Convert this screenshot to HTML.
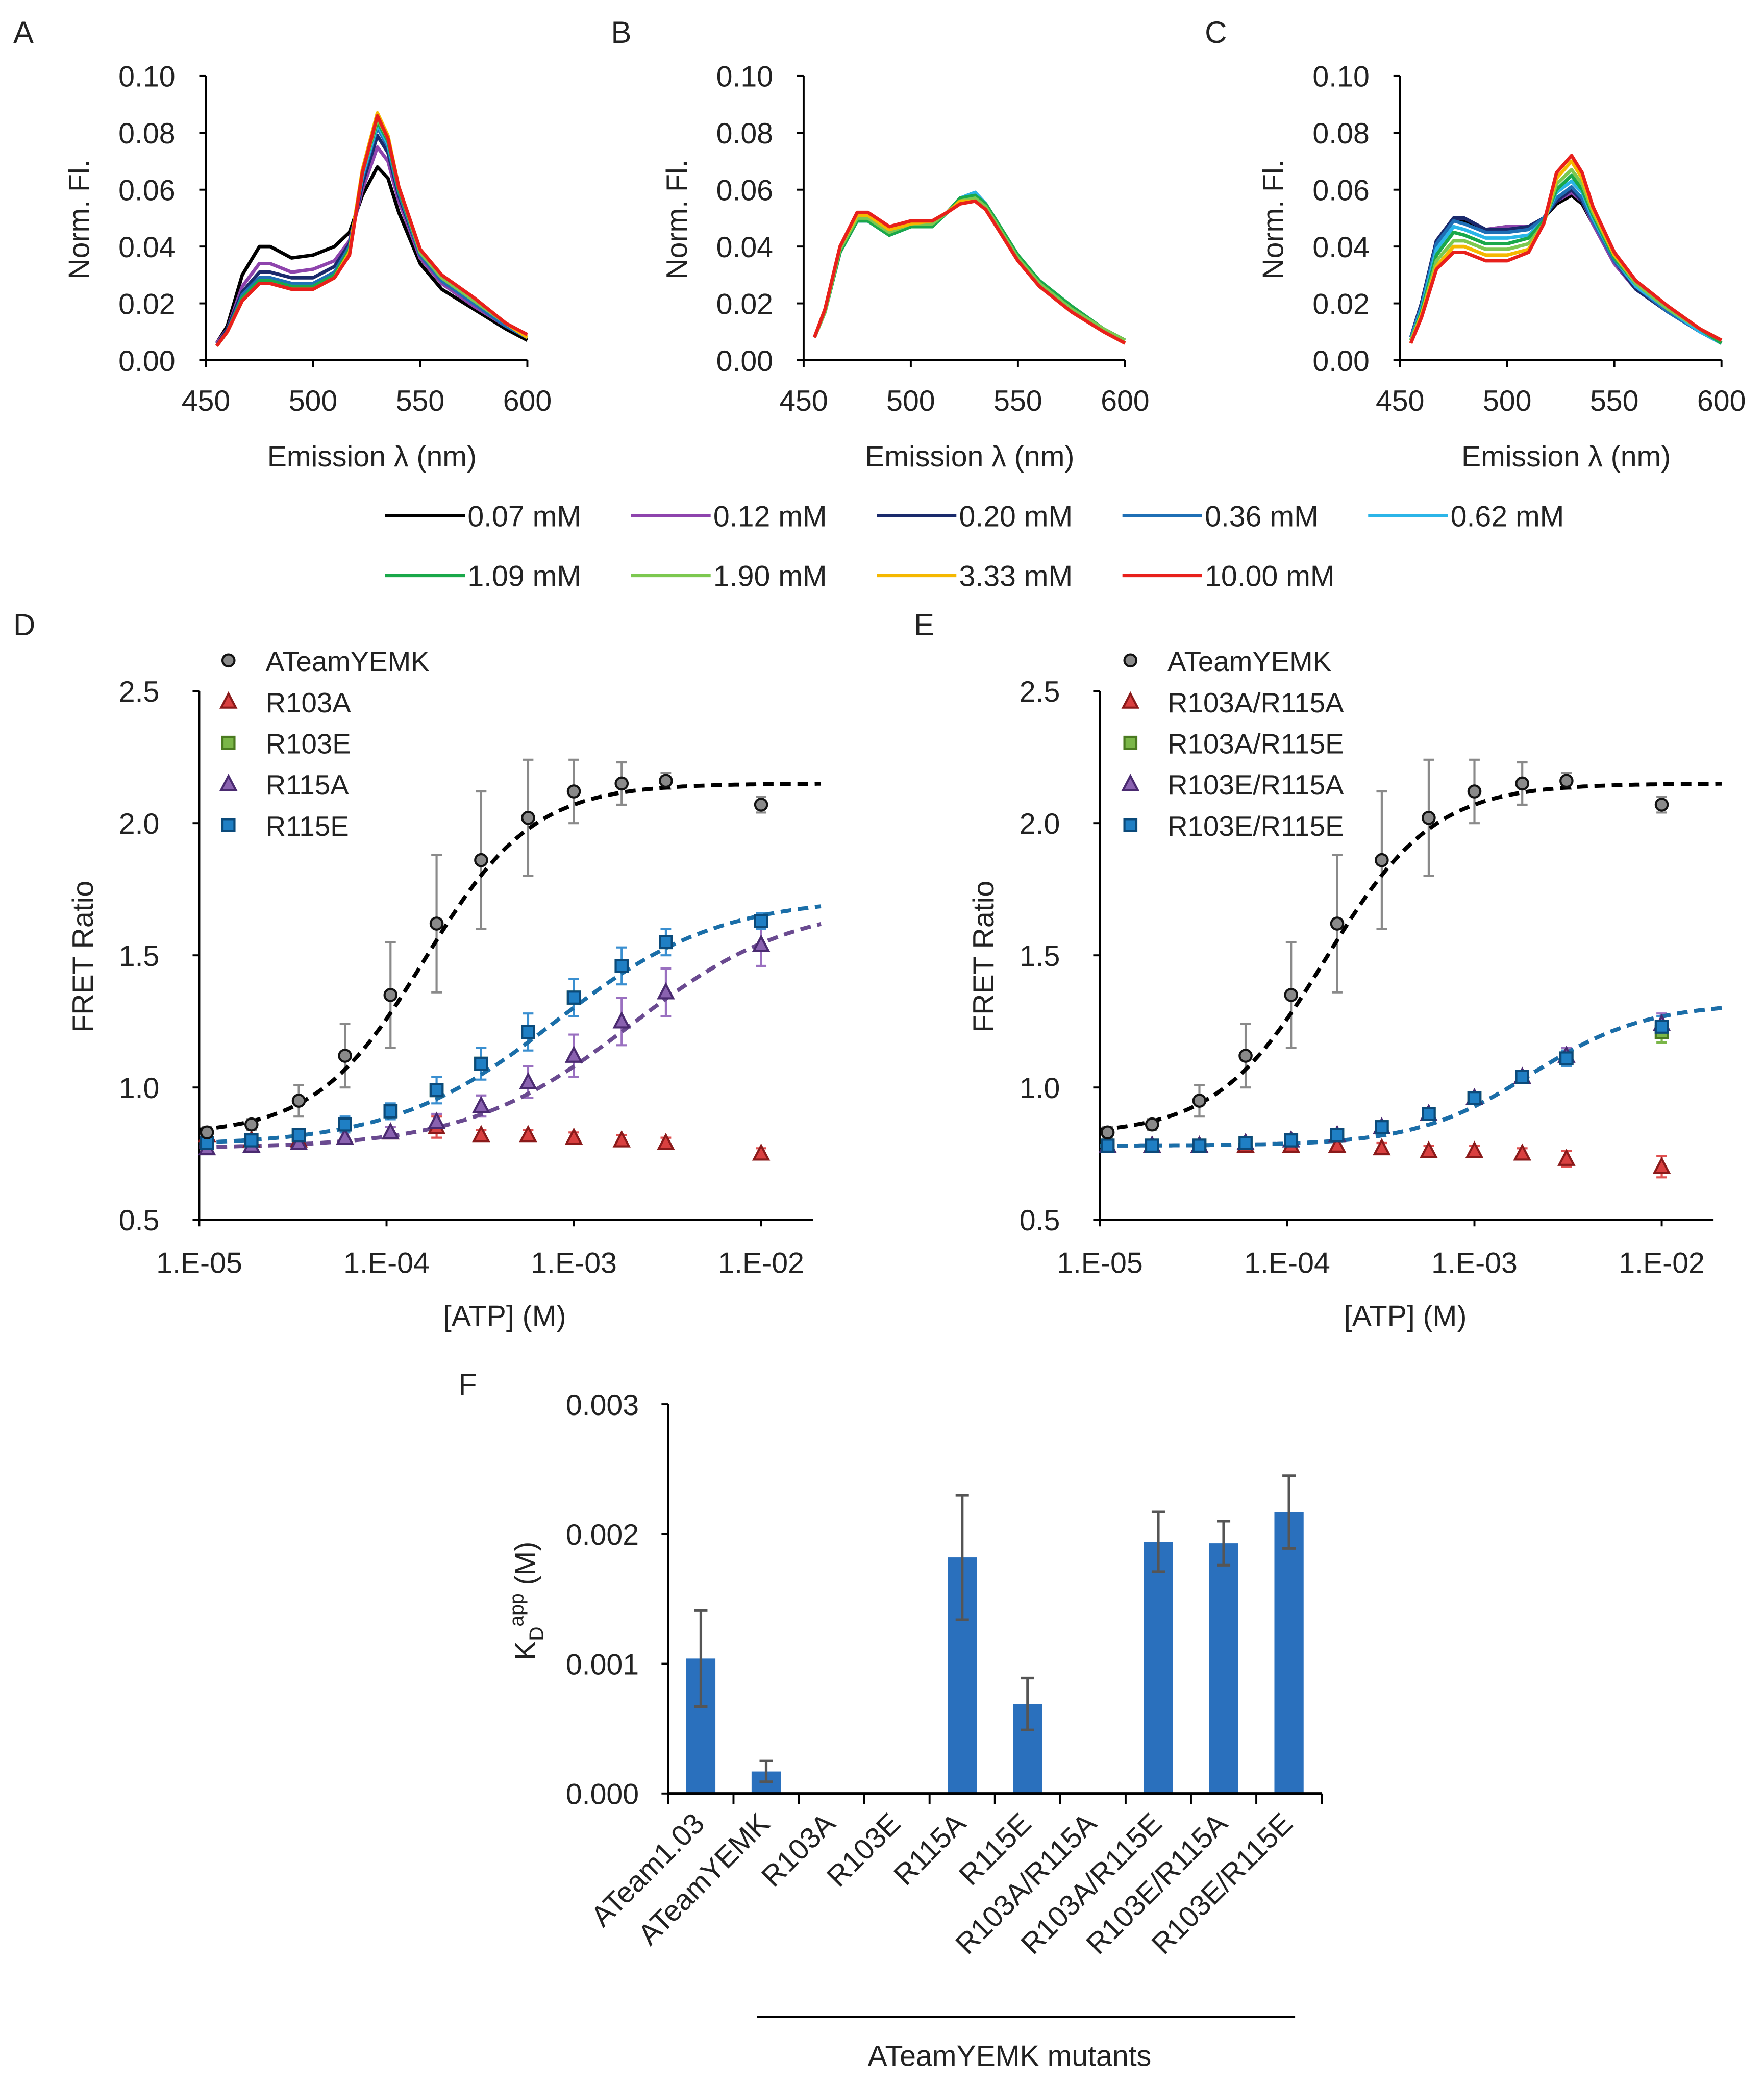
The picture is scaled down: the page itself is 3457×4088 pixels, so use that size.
<!DOCTYPE html>
<html><head><meta charset="utf-8"><style>
html,body{margin:0;padding:0;background:#fff}
svg{display:block}
text{font-family:"Liberation Sans",Arial,sans-serif;fill:#222}
</style></head><body>
<svg id="fig" xmlns="http://www.w3.org/2000/svg" width="3457" height="4088" viewBox="0 0 1328 1570"></svg>
<script>
// ---------- data: spectra ----------
const wl = [455,460,467,475,480,490,500,510,517,523,530,535,540,550,560,575,590,600];
const concLabels = ['0.07 mM','0.12 mM','0.20 mM','0.36 mM','0.62 mM','1.09 mM','1.90 mM','3.33 mM','10.00 mM'];
const concColors = ['#000000','#8e44ad','#1a2a6c','#1f6fb5','#2bb5e8','#1aa84a','#7cc850','#f5b800','#e8201c'];
const specA0=[.006,.012,.030,.040,.040,.036,.037,.040,.045,.058,.068,.064,.052,.034,.025,.018,.011,.007];
const specA1=[.006,.011,.026,.034,.034,.031,.032,.035,.042,.060,.075,.070,.056,.036,.027,.019,.012,.008];
const specA2=[.005,.011,.024,.031,.031,.029,.029,.033,.041,.062,.079,.073,.058,.037,.028,.020,.012,.008];
const specA3=[.005,.010,.023,.029,.029,.027,.027,.031,.040,.064,.082,.075,.059,.037,.028,.020,.012,.008];
const specA4=[.005,.010,.022,.028,.028,.026,.026,.030,.039,.065,.083,.076,.060,.038,.029,.021,.013,.008];
const specA5=[.005,.010,.022,.028,.028,.026,.026,.030,.039,.066,.084,.077,.060,.038,.029,.021,.013,.008];
const specA6=[.005,.010,.021,.027,.027,.025,.025,.029,.038,.066,.085,.078,.061,.038,.029,.021,.013,.008];
const specA7=[.005,.010,.021,.027,.027,.025,.025,.029,.038,.067,.087,.079,.061,.039,.030,.022,.013,.008];
const specA8=[.005,.010,.021,.027,.027,.025,.025,.029,.037,.066,.086,.078,.061,.039,.030,.022,.013,.009];
const specB0=[.008,.017,.039,.050,.050,.045,.048,.048,.052,.057,.058,.054,.048,.036,.027,.018,.011,.007];
const specB1=[.008,.017,.039,.050,.050,.045,.047,.048,.052,.057,.058,.055,.048,.036,.027,.018,.011,.007];
const specB2=[.008,.017,.038,.049,.049,.044,.047,.047,.052,.057,.059,.055,.048,.036,.027,.018,.011,.007];
const specB3=[.008,.017,.038,.049,.049,.044,.047,.047,.052,.057,.059,.055,.048,.036,.027,.018,.011,.007];
const specB4=[.008,.017,.038,.049,.049,.044,.047,.047,.052,.057,.059,.055,.049,.036,.027,.018,.011,.007];
const specB5=[.008,.017,.038,.049,.049,.044,.047,.047,.052,.057,.058,.055,.049,.037,.028,.019,.011,.007];
const specB6=[.008,.017,.039,.050,.050,.045,.048,.048,.052,.056,.057,.054,.048,.036,.027,.018,.011,.007];
const specB7=[.008,.018,.040,.051,.051,.046,.048,.049,.052,.056,.056,.053,.047,.035,.026,.017,.010,.006];
const specB8=[.008,.018,.040,.052,.052,.047,.049,.049,.052,.055,.056,.053,.047,.035,.026,.017,.010,.006];
const specC0=[.008,.020,.042,.050,.049,.046,.047,.047,.050,.055,.058,.055,.048,.034,.025,.017,.010,.006];
const specC1=[.008,.020,.042,.050,.050,.046,.047,.047,.050,.056,.059,.056,.048,.034,.025,.017,.010,.006];
const specC2=[.008,.020,.042,.050,.050,.046,.046,.047,.050,.056,.060,.056,.049,.035,.025,.017,.010,.006];
const specC3=[.008,.019,.041,.049,.048,.045,.045,.046,.050,.057,.061,.057,.049,.035,.026,.017,.010,.006];
const specC4=[.007,.018,.039,.047,.046,.043,.043,.044,.049,.059,.063,.059,.050,.036,.026,.018,.010,.006];
const specC5=[.007,.017,.037,.045,.044,.041,.041,.043,.049,.060,.065,.060,.051,.036,.027,.018,.011,.006];
const specC6=[.007,.016,.035,.042,.042,.039,.039,.041,.048,.062,.067,.062,.052,.037,.027,.018,.011,.007];
const specC7=[.006,.016,.033,.040,.040,.037,.037,.039,.048,.064,.070,.064,.053,.037,.028,.019,.011,.007];
const specC8=[.006,.015,.032,.038,.038,.035,.035,.038,.048,.066,.072,.066,.054,.038,.028,.019,.011,.007];
const specsA=[specA0,specA1,specA2,specA3,specA4,specA5,specA6,specA7,specA8];
const specsB=[specB0,specB1,specB2,specB3,specB4,specB5,specB6,specB7,specB8];
const specsC=[specC0,specC1,specC2,specC3,specC4,specC5,specC6,specC7,specC8];
const specYTicks=['0.00','0.02','0.04','0.06','0.08','0.10'];
const specXTicks=[450,500,550,600];

// ---------- data: titration ----------
const atp=[1.1e-5,1.9e-5,3.4e-5,6e-5,1.05e-4,1.85e-4,3.2e-4,5.7e-4,1.0e-3,1.8e-3,3.1e-3,1.0e-2];
const yemk=[0.83,0.86,0.95,1.12,1.35,1.62,1.86,2.02,2.12,2.15,2.16,2.07];
const yemkErr=[0.02,0.02,0.06,0.12,0.2,0.26,0.26,0.22,0.12,0.08,0.03,0.03];
const r103a=[0.82,0.80,0.80,0.81,0.83,0.85,0.82,0.82,0.81,0.80,0.79,0.75];
const r103aErr=[0.02,0.02,0.02,0.02,0.02,0.04,0.02,0.02,0.02,0.02,0.02,0.02];
const r103e=[0.79,0.80,0.82,0.86,0.91,0.99,1.09,1.21,1.34,1.46,1.55,1.63];
const r115a=[0.77,0.78,0.79,0.81,0.83,0.87,0.93,1.02,1.12,1.25,1.36,1.54];
const r115aErr=[0.02,0.02,0.02,0.02,0.02,0.03,0.04,0.06,0.08,0.09,0.09,0.08];
const r115e=[0.79,0.80,0.82,0.86,0.91,0.99,1.09,1.21,1.34,1.46,1.55,1.63];
const r115eErr=[0.02,0.02,0.02,0.03,0.03,0.05,0.06,0.07,0.07,0.07,0.05,0.03];
const dd_aa=[0.78,0.78,0.78,0.78,0.78,0.78,0.77,0.76,0.76,0.75,0.73,0.70];
const dd_ae=[0.78,0.78,0.78,0.79,0.80,0.82,0.85,0.90,0.96,1.04,1.11,1.21];
const dd_ea=[0.78,0.78,0.78,0.79,0.80,0.82,0.85,0.90,0.96,1.04,1.12,1.24];
const dd_ee=[0.78,0.78,0.78,0.79,0.80,0.82,0.85,0.90,0.96,1.04,1.11,1.23];
const ddErr=[0.02,0.02,0.02,0.02,0.02,0.02,0.02,0.02,0.02,0.02,0.03,0.04];
// Hill fit parameters: [min, max, Kd, n]
const fitYemk=[0.82,2.15,1.6e-4,1.5];
const fitR115e=[0.78,1.72,8e-4,1.0];
const fitR115a=[0.77,1.70,2.0e-3,1.0];
const fitDouble=[0.78,1.32,2e-3,1.4];
const fretYTicks=['0.5','1.0','1.5','2.0','2.5'];
const fretXTicks=['1.E-05','1.E-04','1.E-03','1.E-02'];

// ---------- data: Kd bars ----------
const kdCats=['ATeam1.03','ATeamYEMK','R103A','R103E','R115A','R115E','R103A/R115A','R103A/R115E','R103E/R115A','R103E/R115E'];
const kdVals=[0.00104,0.00017,0,0,0.00182,0.00069,0,0.00194,0.00193,0.00217];
const kdErr=[0.00037,0.00008,0,0,0.00048,0.0002,0,0.00023,0.00017,0.00028];
const kdTicks=['0.000','0.001','0.002','0.003'];

// ---------- drawing ----------
const NS='http://www.w3.org/2000/svg';
const svg=document.getElementById('fig');
function el(tag,attrs,parent){const e=document.createElementNS(NS,tag);for(const k in attrs)e.setAttribute(k,attrs[k]);(parent||svg).appendChild(e);return e;}
function txt(s,x,y,size,anchor,parent){const t=el('text',{x:x,y:y,'font-size':size,'text-anchor':anchor||'start'},parent);t.textContent=s;return t;}

[['A',10,32],['B',460,32],['C',907,32],['D',10,478],['E',688,478],['F',345,1050]].forEach(p=>{
  const t=txt(p[0],p[1],p[2],23);
  
  
});

function spectrum(x0,specs,name){
  const g=el('g',{});
  
  
  const x1=x0+242, yB=271, yT=57;
  const sx=v=>x0+(v-450)/150*(x1-x0);
  const sy=v=>yB-v/0.10*(yB-yT);
  specs.forEach((s,i)=>{
    const d=s.map((v,j)=>(j?'L':'M')+sx(wl[j]).toFixed(1)+' '+sy(v).toFixed(1)).join(' ');
    const p=el('path',{d:d,fill:'none',stroke:concColors[i],'stroke-width':2.6,'stroke-linejoin':'round'},g);
    
    
  });
  el('line',{x1:x0,y1:yT,x2:x0,y2:yB,stroke:'#000','stroke-width':1.5},g);
  el('line',{x1:x0,y1:yB,x2:x1,y2:yB,stroke:'#000','stroke-width':1.5},g);
  specYTicks.forEach((t,i)=>{const y=sy(i*0.02);el('line',{x1:x0-5,y1:y,x2:x0,y2:y,stroke:'#000','stroke-width':1.5},g);txt(t,x0-23,y+8,22,'end',g);});
  specXTicks.forEach(t=>{const x=sx(t);el('line',{x1:x,y1:yB,x2:x,y2:yB+5,stroke:'#000','stroke-width':1.5},g);txt(String(t),x,yB+38,22,'middle',g);});
  const xt=txt('Emission λ (nm)',x0+125,351,22,'middle',g);
  
  const yt=txt('Norm. Fl.',0,0,22,'middle',g);
  yt.setAttribute('transform','translate('+(x0-88)+',165) rotate(-90)');
  
}
spectrum(155,specsA,'panel-a');
spectrum(605,specsB,'panel-b');
spectrum(1054,specsC,'panel-c');

const legPos=[[290,388],[475,388],[660,388],[845,388],[1030,388],[290,433],[475,433],[660,433],[845,433]];
concLabels.forEach((l,i)=>{
  const g=el('g',{});
  
  
  const [x,y]=legPos[i];
  el('line',{x1:x,y1:y,x2:x+60,y2:y,stroke:concColors[i],'stroke-width':2.6},g);
  txt(l,x+62,y+8,22,'start',g);
});

function marker(g,shape,x,y,fill,stroke){
  if(shape==='circle')return el('circle',{cx:x,cy:y,r:4.5,fill:fill,stroke:stroke,'stroke-width':1.6},g);
  if(shape==='square')return el('rect',{x:x-4.5,y:y-4.5,width:9,height:9,fill:fill,stroke:stroke,'stroke-width':1.6},g);
  return el('path',{d:'M'+x+' '+(y-6)+' L'+(x+5.5)+' '+(y+4.5)+' L'+(x-5.5)+' '+(y+4.5)+' Z',fill:fill,stroke:stroke,'stroke-width':1.6},g);
}

function fret(x0,series,fits,legendX,name){
  const g=el('g',{});
  
  
  const dec=141, xEnd=x0+462, yB=918, yT=520;
  const sx=c=>x0+(Math.log10(c)+5)*dec;
  const sy=v=>yB-(v-0.5)/2*(yB-yT);
  el('line',{x1:x0,y1:yT,x2:x0,y2:yB,stroke:'#000','stroke-width':1.5},g);
  el('line',{x1:x0,y1:yB,x2:xEnd,y2:yB,stroke:'#000','stroke-width':1.5},g);
  fretYTicks.forEach((t,i)=>{const y=sy(0.5+i*0.5);el('line',{x1:x0-5,y1:y,x2:x0,y2:y,stroke:'#000','stroke-width':1.5},g);txt(t,x0-30,y+8,22,'end',g);});
  fretXTicks.forEach((t,i)=>{const x=x0+i*dec;el('line',{x1:x,y1:yB,x2:x,y2:yB+5,stroke:'#000','stroke-width':1.5},g);txt(t,x,yB+40,22,'middle',g);});
  const xt=txt('[ATP] (M)',x0+230,998,22,'middle',g);
  
  const yt=txt('FRET Ratio',0,0,22,'middle',g);
  yt.setAttribute('transform','translate('+(x0-80)+',720) rotate(-90)');
  
  series.forEach(s=>{
    if(!s.err)return;
    s.vals.forEach((v,i)=>{
      const x=sx(atp[i]),ya=sy(v+s.err[i]),yb=sy(v-s.err[i]);
      el('path',{d:'M'+x+' '+ya+'V'+yb+'M'+(x-4)+' '+ya+'H'+(x+4)+'M'+(x-4)+' '+yb+'H'+(x+4),stroke:s.ec,'stroke-width':1.6,fill:'none'},g);
    });
  });
  fits.forEach(f=>{
    const p=f.p;let d='';
    for(let lx=-5;lx<=Math.log10(2.1e-2);lx+=0.02){const c=Math.pow(10,lx);const v=p[0]+(p[1]-p[0])*Math.pow(c/p[2],p[3])/(1+Math.pow(c/p[2],p[3]));d+=(d?'L':'M')+sx(c).toFixed(1)+' '+sy(v).toFixed(1);}
    const path=el('path',{d:d,fill:'none',stroke:f.c,'stroke-width':3,'stroke-dasharray':'8,5'},g);
    
    
  });
  series.forEach(s=>{
    s.vals.forEach((v,i)=>{
      const m=marker(g,s.shape,sx(atp[i]),sy(v),s.fill,s.stroke);
      
      
    });
  });
  series.slice().sort((a,b)=>a.li-b.li).forEach((s,k)=>{
    const y=497+k*31;
    marker(g,s.shape,legendX,y,s.fill,s.stroke);
    const t=txt(s.label,legendX+28,y+8,21,'start',g);
    
    
  });
}
const cBlk={fill:'#8a8a8a',stroke:'#111',ec:'#8a8a8a',shape:'circle'};
const cRed={fill:'#d94040',stroke:'#8a1a1a',ec:'#e05050',shape:'tri'};
const cGrn={fill:'#7ab648',stroke:'#4a7a20',ec:'#7ab648',shape:'square'};
const cPur={fill:'#8a62b0',stroke:'#4a2a70',ec:'#9a70c0',shape:'tri'};
const cBlu={fill:'#1f7fc4',stroke:'#0b4a7a',ec:'#3a8fd0',shape:'square'};
fret(150,[
  Object.assign({name:'r103e',label:'R103E',vals:r103e,err:null,li:2},cGrn),
  Object.assign({name:'r103a',label:'R103A',vals:r103a,err:r103aErr,li:1},cRed),
  Object.assign({name:'r115a',label:'R115A',vals:r115a,err:r115aErr,li:3},cPur),
  Object.assign({name:'r115e',label:'R115E',vals:r115e,err:r115eErr,li:4},cBlu),
  Object.assign({name:'ateamyemk',label:'ATeamYEMK',vals:yemk,err:yemkErr,li:0},cBlk)
],[{p:fitYemk,c:'#000',n:'ateamyemk'},{p:fitR115a,c:'#6a4a90',n:'r115a'},{p:fitR115e,c:'#1a6ea8',n:'r115e'}],172,'panel-d');
fret(828,[
  Object.assign({name:'r103a-r115e',label:'R103A/R115E',vals:dd_ae,err:ddErr,li:2},cGrn),
  Object.assign({name:'r103a-r115a',label:'R103A/R115A',vals:dd_aa,err:ddErr,li:1},cRed),
  Object.assign({name:'r103e-r115a',label:'R103E/R115A',vals:dd_ea,err:ddErr,li:3},cPur),
  Object.assign({name:'r103e-r115e',label:'R103E/R115E',vals:dd_ee,err:ddErr,li:4},cBlu),
  Object.assign({name:'ateamyemk',label:'ATeamYEMK',vals:yemk,err:yemkErr,li:0},cBlk)
],[{p:fitYemk,c:'#000',n:'ateamyemk'},{p:fitDouble,c:'#6a4a90',n:'double-a'},{p:fitDouble,c:'#1a6ea8',n:'double-b'}],851,'panel-e');

(function(){
  const g=el('g',{});
  
  
  const x0=503,x1=995,yB=1350,yT=1057,w=(x1-x0)/kdCats.length;
  const sy=v=>yB-v/0.003*(yB-yT);
  kdVals.forEach((v,i)=>{
    const cx=x0+w*(i+0.5);
    if(v>0){
      const r=el('rect',{x:cx-11,y:sy(v),width:22,height:yB-sy(v),fill:'#2a70bd'},g);
      
      
      const ya=sy(v+kdErr[i]),yb=sy(v-kdErr[i]);
      el('path',{d:'M'+cx+' '+ya+'V'+yb+'M'+(cx-5)+' '+ya+'H'+(cx+5)+'M'+(cx-5)+' '+yb+'H'+(cx+5),stroke:'#555','stroke-width':2,fill:'none'},g);
    }
    const t=txt(kdCats[i],0,0,22,'end',g);
    t.setAttribute('transform','translate('+(cx+4)+','+(yB+24)+') rotate(-45)');
    
    
  });
  el('line',{x1:x0,y1:yT,x2:x0,y2:yB,stroke:'#000','stroke-width':1.5},g);
  el('line',{x1:x0,y1:yB,x2:x1,y2:yB,stroke:'#000','stroke-width':2},g);
  for(let i=0;i<=kdCats.length;i++){const x=x0+i*w;el('line',{x1:x,y1:yB,x2:x,y2:yB+8,stroke:'#000','stroke-width':1.5},g);}
  kdTicks.forEach((t,i)=>{const y=sy(i*0.001);el('line',{x1:x0-5,y1:y,x2:x0,y2:y,stroke:'#000','stroke-width':1.5},g);txt(t,x0-22,y+8,22,'end',g);});
  const yt=el('text',{'font-size':22,'text-anchor':'middle',transform:'translate(403,1205) rotate(-90)'},g);
  
  yt.innerHTML='K<tspan font-size="15" dy="6">D</tspan><tspan font-size="15" dy="-15">app</tspan><tspan dy="9"> (M)</tspan>';
  el('line',{x1:570,y1:1518,x2:975,y2:1518,stroke:'#000','stroke-width':1.5},g);
  const gt=txt('ATeamYEMK mutants',760,1555,22,'middle',g);
  
})();
</script>
</body></html>
